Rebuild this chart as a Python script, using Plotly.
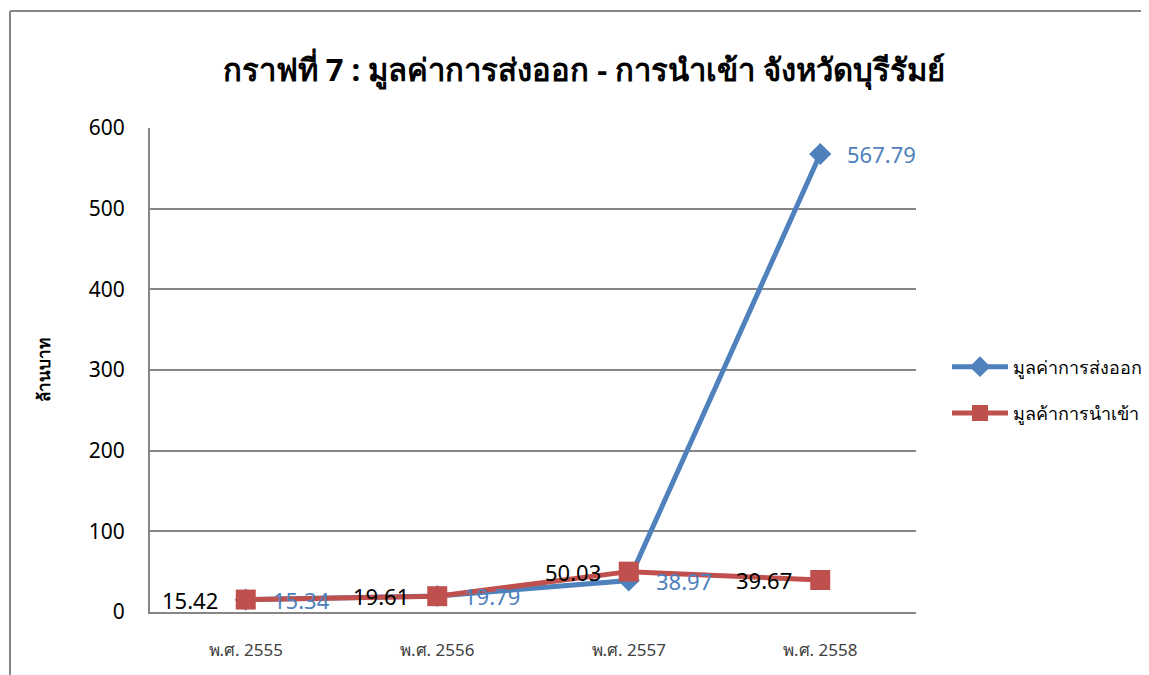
import plotly.graph_objects as go

categories = ["พ.ศ. 2555", "พ.ศ. 2556", "พ.ศ. 2557", "พ.ศ. 2558"]
export_values = [15.34, 19.79, 38.97, 567.79]
import_values = [15.42, 19.61, 50.03, 39.67]
export_name = "มูลค่าการส่งออก"
import_name = "มูลค้าการนำเข้า"
title_text = "กราฟที่ 7 : มูลค่าการส่งออก - การนำเข้า จังหวัดบุรีรัมย์"
y_title = "ล้านบาท"
y_ticks = [0, 100, 200, 300, 400, 500, 600]

BLUE = "#4F81BD"
RED = "#C0504D"
FONT = "Noto Sans, DejaVu Sans, sans-serif"

# page offset (browser body margin)
OFF = 8
W, H = 1149 - OFF, 675 - OFF
px0, py_top, py_bot, px1 = 150 - OFF, 128 - OFF, 612 - OFF, 916 - OFF
pw, ph = px1 - px0, py_bot - py_top


def px_to_paper_x(px):
    return (px - OFF - px0) / pw


def py_to_paper_y(py):
    return (py_bot - (py - OFF)) / ph


fig = go.Figure()
fig.add_trace(go.Scatter(
    x=categories, y=export_values, name=export_name,
    mode="lines+markers",
    line=dict(color=BLUE, width=5),
    marker=dict(symbol="diamond", size=17, color=BLUE),
    legendgroup="a",
))
fig.add_trace(go.Scatter(
    x=categories, y=import_values, name=import_name,
    mode="lines+markers",
    line=dict(color=RED, width=5),
    marker=dict(symbol="square", size=20, color=RED),
    legendgroup="b",
))

annotations = []
for c, v in zip(categories, export_values):
    annotations.append(dict(x=c, y=v, xref="x", yref="y", text=f"{v:.2f}",
                            showarrow=False, xanchor="left", yanchor="middle", xshift=25,
                            font=dict(color=BLUE, size=22, family=FONT)))
for c, v in zip(categories, import_values):
    annotations.append(dict(x=c, y=v, xref="x", yref="y", text=f"{v:.2f}",
                            showarrow=False, xanchor="right", yanchor="middle", xshift=-26,
                            font=dict(color="black", size=22, family=FONT)))

fig.update_layout(
    width=W, height=H,
    margin=dict(l=px0, r=W - px1, t=py_top, b=H - py_bot, autoexpand=False),
    paper_bgcolor="white", plot_bgcolor="white",
    font=dict(family=FONT, color="black"),
    title=dict(text=f"<b>{title_text}</b>", x=(584 - OFF) / W, xanchor="center",
               y=1 - (70 - OFF) / H, yanchor="middle", yref="container",
               font=dict(size=31, color="black", family=FONT)),
    showlegend=True,
    legend=dict(x=px_to_paper_x(947), y=py_to_paper_y(390), xanchor="left", yanchor="middle",
                font=dict(size=18, color="black", family=FONT),
                itemwidth=56,
                tracegroupgap=20, bgcolor="rgba(0,0,0,0)"),
    xaxis=dict(type="category", range=[-0.5, 3.5], showgrid=False,
               showline=True, linecolor="#868686", linewidth=2,
               ticks="", tickfont=dict(size=17, color="#404040"),
               ticklabelstandoff=22, fixedrange=True),
    yaxis=dict(range=[0, 600], tickvals=y_ticks, showgrid=True,
               gridcolor="#868686", gridwidth=1.5,
               showline=True, linecolor="#868686", linewidth=2,
               zeroline=False, ticks="", tickfont=dict(size=21, color="black"),
               ticklabelstandoff=19,
               title=dict(text=f"<b>{y_title}</b>", font=dict(size=17, color="black"), standoff=34)),
    annotations=annotations,
    shapes=[
        dict(type="line", xref="paper", yref="paper",
             x0=px_to_paper_x(10), x1=px_to_paper_x(1170), y0=py_to_paper_y(11), y1=py_to_paper_y(11),
             line=dict(color="#868686", width=2)),
        dict(type="line", xref="paper", yref="paper",
             x0=px_to_paper_x(10), x1=px_to_paper_x(10), y0=py_to_paper_y(11), y1=py_to_paper_y(700),
             line=dict(color="#868686", width=2)),
    ],
)

fig.write_html("out.html")
